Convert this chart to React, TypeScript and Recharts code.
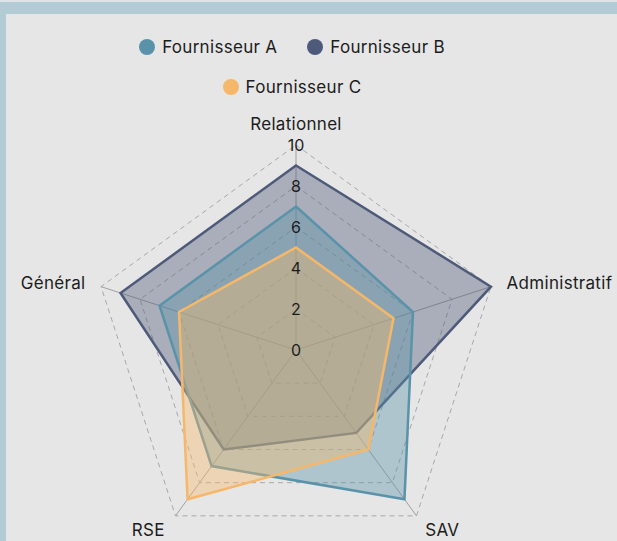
import React from 'react';
import {
  RadarChart,
  Radar,
  PolarGrid,
  PolarAngleAxis,
  PolarRadiusAxis,
  Legend
} from 'recharts';

const criteria = ['Relationnel', 'Administratif', 'SAV', 'RSE', 'Général'];
const fournisseurA = [7, 6, 9, 7, 7];
const fournisseurB = [9, 10, 5, 6, 9];
const fournisseurC = [5, 5, 6, 9, 6];
const radiusTicks = [0, 2, 4, 6, 8, 10];
const seriesNames = ['Fournisseur A', 'Fournisseur B', 'Fournisseur C'];

const data = criteria.map((critere, i) => ({
  critere,
  A: fournisseurA[i],
  B: fournisseurB[i],
  C: fournisseurC[i]
}));

const COLORS = { A: '#5a93a9', B: '#4e5a79', C: '#f5b86a' };
const FONT = 'Inter, "Noto Sans", sans-serif';

// nudges for the category labels around the outer ring
const labelOffsets: Record<string, { dx: number; dy: number }> = {
  Relationnel: { dx: 0, dy: -7 },
  Administratif: { dx: 8, dy: 5 },
  SAV: { dx: 4, dy: 14 },
  RSE: { dx: -6, dy: 14 },
  Général: { dx: -8, dy: 5 }
};

const AngleTick = (props: any) => {
  const { x, y, payload, textAnchor } = props;
  const o = labelOffsets[payload.value] || { dx: 0, dy: 0 };
  return (
    <text
      x={x + o.dx}
      y={y + o.dy}
      textAnchor={textAnchor}
      fill="#1c1c1c"
      fontSize={17}
      letterSpacing={0.3}
      fontFamily={FONT}
    >
      {payload.value}
    </text>
  );
};

const RadiusTick = (props: any) => {
  const { x, y, payload } = props;
  return (
    <text x={x} y={y} textAnchor="middle" dominantBaseline="central" fill="#1c1c1c" fontSize={16} fontFamily={FONT}>
      {payload.value}
    </text>
  );
};

const renderLegend = (props: any) => {
  const items = [...(props.payload || [])].sort((a: any, b: any) =>
    String(a.value).localeCompare(String(b.value))
  );
  return (
    <div
      style={{
        display: 'flex',
        flexWrap: 'wrap',
        justifyContent: 'center',
        columnGap: 30,
        rowGap: 20,
        fontFamily: FONT,
        fontSize: 17,
        letterSpacing: 0.3,
        color: '#1c1c1c'
      }}
    >
      {items.map((entry: any) => (
        <div key={entry.value} style={{ display: 'flex', alignItems: 'center', height: 20 }}>
          <span
            style={{
              width: 16,
              height: 16,
              borderRadius: '50%',
              background: entry.color,
              marginRight: 7,
              display: 'inline-block'
            }}
          />
          {entry.value}
        </div>
      ))}
    </div>
  );
};

export default function App() {
  return (
    <div style={{ position: 'absolute', left: 0, top: 0, width: 617, height: 541, background: '#dde3e6' }}>
      <div style={{ position: 'absolute', left: 0, top: 2, right: 0, bottom: 0, background: '#b3cbd5' }} />
      <div style={{ position: 'absolute', left: 6, top: 14, right: 0, bottom: 0, background: '#e6e6e6' }} />
      <div style={{ position: 'absolute', left: 0, top: 0 }}>
        <RadarChart
          width={617}
          height={541}
          data={data}
          cx={296}
          cy={350}
          outerRadius={205}
          margin={{ top: 0, right: 0, bottom: 0, left: 0 }}
        >
          <PolarGrid gridType="polygon" radialLines={false} stroke="#a8a8a8" strokeDasharray="5 4" />
          <PolarGrid gridType="polygon" polarRadius={[0]} stroke="#a0a0a0" />
          <PolarAngleAxis dataKey="critere" tick={AngleTick} tickLine={false} axisLine={false} />
          <Radar
            name={seriesNames[1]}
            dataKey="B"
            stroke={COLORS.B}
            strokeWidth={2.5}
            fill={COLORS.B}
            fillOpacity={0.4}
            isAnimationActive={false}
          />
          <Radar
            name={seriesNames[0]}
            dataKey="A"
            stroke={COLORS.A}
            strokeWidth={2.5}
            fill={COLORS.A}
            fillOpacity={0.4}
            isAnimationActive={false}
          />
          <Radar
            name={seriesNames[2]}
            dataKey="C"
            stroke={COLORS.C}
            strokeWidth={2.5}
            fill={COLORS.C}
            fillOpacity={0.4}
            isAnimationActive={false}
          />
          <PolarRadiusAxis
            angle={90}
            domain={[0, 10]}
            ticks={radiusTicks as any}
            tickCount={6}
            axisLine={false}
            tickLine={false}
            tick={RadiusTick}
          />
          <Legend
            verticalAlign="top"
            content={renderLegend}
            wrapperStyle={{ top: 37, left: 127, width: 330 }}
          />
        </RadarChart>
      </div>
    </div>
  );
}
